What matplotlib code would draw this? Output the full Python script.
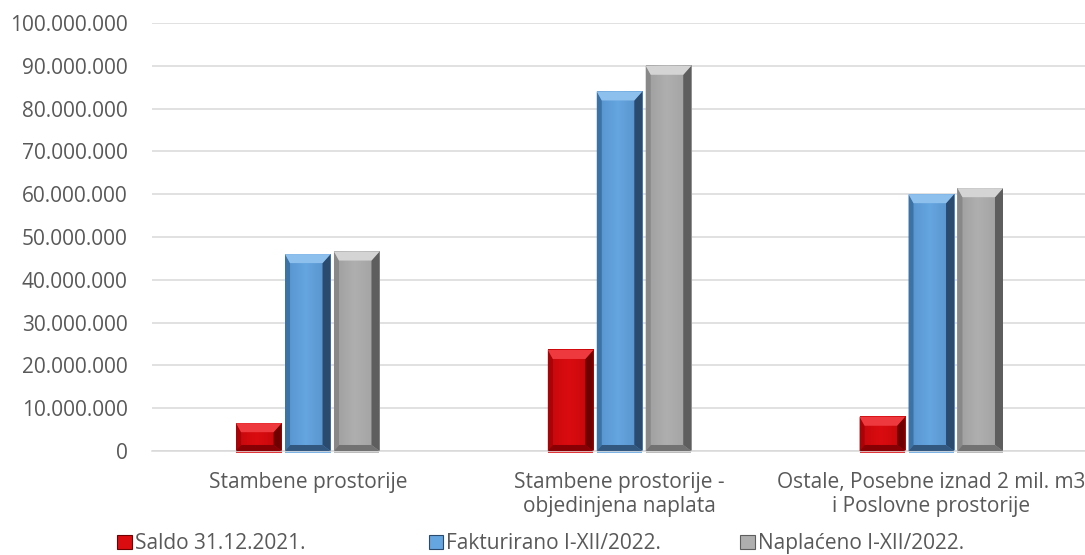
import matplotlib.pyplot as plt
from matplotlib.patches import Polygon, Patch
from matplotlib.colors import to_rgb
import numpy as np

plt.rcParams['font.family'] = ['Open Sans', 'DejaVu Sans']

categories = ['Stambene prostorije',
              'Stambene prostorije -\nobjedinjena naplata',
              'Ostale, Posebne iznad 2 mil. m3\ni Poslovne prostorije']
series = ['Saldo 31.12.2021.', 'Fakturirano I-XII/2022.', 'Naplaćeno I-XII/2022.']
saldo = [6.5e6, 23.6e6, 8.0e6]
fakturirano = [46.0e6, 84.0e6, 60.0e6]
naplaceno = [46.6e6, 90.0e6, 61.4e6]
yticks = np.arange(0, 100e6 + 1, 10e6)

# face gradient (left, mid, right), top light, left side, right dark, bottom dark
colors = [
    (('#C4080C', '#DA0C10', '#C2070A'), '#EE3A3E', '#A80307', '#6E0002', '#860004'),
    (('#5593CC', '#65A5E0', '#5590C8'), '#8EC0EE', '#3C73A6', '#2A4A6E', '#33587F'),
    (('#9E9E9E', '#AFAFAF', '#A0A0A0'), '#D4D4D4', '#888888', '#5E5E5E', '#727272'),
]

fig = plt.figure(figsize=(10.85, 5.55), dpi=100)
ax = fig.add_axes([0.140, 0.1874, 0.862, 0.7712])

x = np.arange(len(categories))
w = 0.146
step = 0.157

ax_w_px = 0.862 * 1085
ax_h_px = 0.7712 * 555
xr = 3.0 / ax_w_px
yr = 100e6 / ax_h_px


def gradient(c, n=64):
    a, b, d = [np.array(to_rgb(k)) for k in c]
    t = np.linspace(0, 1, n)[:, None]
    half = np.where(t < 0.45, a + (b - a) * (t / 0.45), b + (d - b) * ((t - 0.45) / 0.55))
    return half[None, :, :]


def bevel(rect, c):
    face, light, side, dark, darker = c
    x0, y0 = rect.get_x(), rect.get_y()
    bw, bh = rect.get_width(), rect.get_height()
    ax.imshow(gradient(face), extent=(x0, x0 + bw, y0, y0 + bh), aspect='auto',
              interpolation='bilinear', zorder=2.5)
    dxl = min(5 * xr, bw / 2)
    dxr = min(8 * xr, bw / 2)
    dy = min(9 * yr, bh / 2)
    dyb = min(6 * yr, bh / 2)
    top = [(x0, y0 + bh), (x0 + bw, y0 + bh), (x0 + bw - dxr, y0 + bh - dy), (x0 + dxl, y0 + bh - dy)]
    left = [(x0, y0), (x0, y0 + bh), (x0 + dxl, y0 + bh - dy), (x0 + dxl, y0 + dyb)]
    right = [(x0 + bw, y0), (x0 + bw, y0 + bh), (x0 + bw - dxr, y0 + bh - dy), (x0 + bw - dxr, y0 + dyb)]
    bottom = [(x0, y0), (x0 + bw, y0), (x0 + bw - dxr, y0 + dyb), (x0 + dxl, y0 + dyb)]
    for pts, col in [(left, side), (right, dark), (bottom, darker), (top, light)]:
        ax.add_patch(Polygon(pts, closed=True, facecolor=col, edgecolor='none', zorder=3))
    # thin coloured line just under the baseline
    ax.plot([x0, x0 + bw], [-0.8 * yr, -0.8 * yr], color=face[1], lw=1.2,
            clip_on=False, zorder=2, solid_capstyle='butt')


for i, (vals, c) in enumerate(zip([saldo, fakturirano, naplaceno], colors)):
    bars = ax.bar(x + (i - 1) * step, vals, width=w, color=c[0][1], zorder=2)
    for r in bars:
        bevel(r, c)

ax.set_xlim(-0.5, 2.5)
ax.set_ylim(0, 100e6)
ax.set_yticks(yticks)
ax.set_yticklabels([f'{int(v):,}'.replace(',', '.') for v in yticks])
ax.set_xticks(x)
ax.set_xticklabels(categories)
ax.tick_params(axis='both', length=0, labelsize=15, colors='#595959')
ax.tick_params(axis='y', pad=17.5)
ax.tick_params(axis='x', pad=15)
for lab in ax.get_xticklabels():
    lab.set_linespacing(1.2)

ax.grid(axis='y', color='#D9D9D9', lw=1.1, zorder=0)
ax.set_axisbelow(True)
for s in ['top', 'right', 'left']:
    ax.spines[s].set_visible(False)
ax.spines['bottom'].set_color('#D9D9D9')
ax.spines['bottom'].set_linewidth(1.1)

# legend entries placed one by one
leg_x = [0.108, 0.395, 0.682]
for lx, name, c in zip(leg_x, series, colors):
    h = Patch(facecolor=c[0][1], edgecolor=c[3], lw=0.8)
    lg = fig.legend([h], [name], loc='center left', bbox_to_anchor=(lx, 0.02),
                    frameon=False, fontsize=15, handlelength=0.7, handleheight=0.7,
                    handletextpad=0.15, borderpad=0, borderaxespad=0)
    for t in lg.get_texts():
        t.set_color('#595959')

fig.savefig('out.png', dpi=100)
